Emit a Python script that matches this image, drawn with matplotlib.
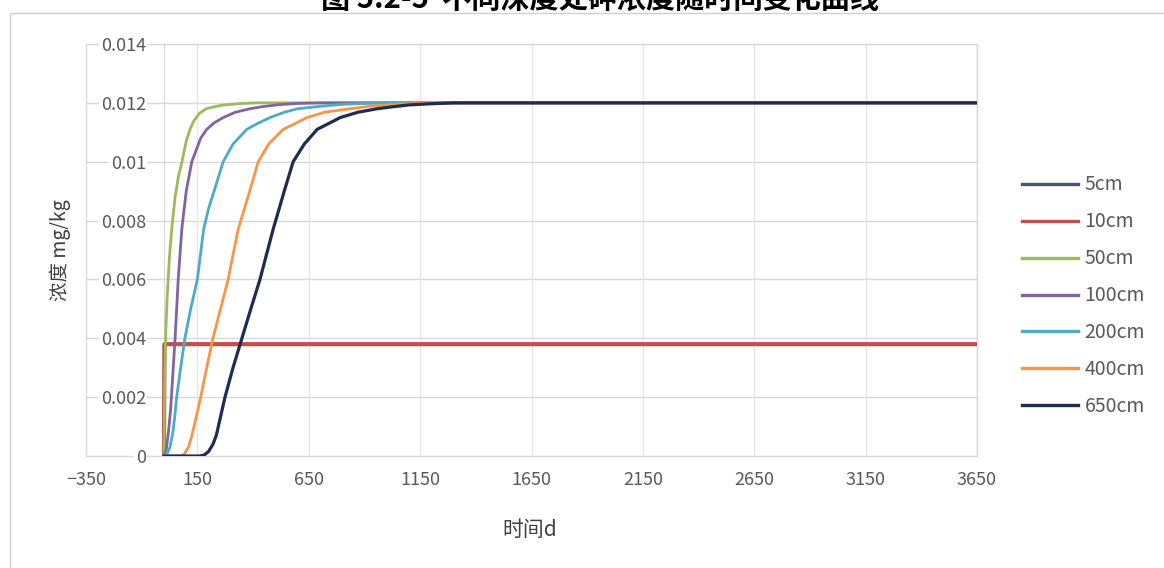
import matplotlib
matplotlib.use("Agg")
import matplotlib.pyplot as plt
from matplotlib.patches import Rectangle
from matplotlib.ticker import FixedLocator, FuncFormatter

plt.rcParams['font.family'] = ['Noto Sans CJK SC', 'DejaVu Sans']

# ---- data ----
labels = ["5cm", "10cm", "50cm", "100cm", "200cm", "400cm", "650cm"]
colors = ["#4a5570", "#c0504d", "#9bbb59", "#8064a2", "#4bacc6", "#f79646", "#1f2b50"]

t_5 = [0, 2, 3650]
c_5 = [0, 0.0038, 0.0038]

t_10 = [0, 2, 3650]
c_10 = [0, 0.0038, 0.0038]

t_50 = [0, 3, 8, 15, 25, 36, 50, 65, 81, 100, 117, 135, 160, 190, 221, 260, 300, 350, 420, 500, 3650]
c_50 = [0, 0.0025, 0.0042, 0.0055, 0.0068, 0.0078, 0.0088, 0.0095, 0.0100, 0.0107, 0.0111, 0.0114,
        0.01165, 0.0118, 0.01186, 0.01192, 0.01195, 0.01198, 0.0120, 0.0120, 0.0120]

t_100 = [0, 10, 20, 30, 40, 50, 64, 80, 100, 125, 145, 165, 192, 225, 266, 320, 386, 450, 520, 600,
         700, 3650]
c_100 = [0, 0.0002, 0.0008, 0.0016, 0.0028, 0.004, 0.006, 0.0077, 0.009, 0.0100, 0.0104, 0.0108,
         0.0111, 0.01132, 0.0115, 0.01168, 0.0118, 0.01188, 0.01194, 0.01198, 0.0120, 0.0120]

t_200 = [0, 15, 27, 40, 48, 57, 75, 94, 120, 150, 178, 200, 225, 266, 310, 372, 420, 476, 540, 600,
         700, 800, 900, 1000, 3650]
c_200 = [0, 0.0001, 0.0003, 0.0008, 0.0013, 0.002, 0.003, 0.004, 0.005, 0.006, 0.0077, 0.0084,
         0.009, 0.0100, 0.0106, 0.0111, 0.0113, 0.0115, 0.01168, 0.0118, 0.01188, 0.01195, 0.01198,
         0.0120, 0.0120]

t_400 = [0, 75, 90, 110, 122, 135, 150, 165, 192, 220, 254, 288, 333, 385, 423, 470, 535, 590, 642,
         720, 836, 920, 1000, 1100, 1200, 3650]
c_400 = [0, 0, 0.00005, 0.0003, 0.0006, 0.001, 0.0015, 0.002, 0.003, 0.004, 0.005, 0.006, 0.0077,
         0.009, 0.0100, 0.0106, 0.0111, 0.0113, 0.0115, 0.01168, 0.0118, 0.01188, 0.01193, 0.01197,
         0.0120, 0.0120]

t_650 = [0, 160, 180, 200, 220, 235, 250, 274, 310, 350, 390, 431, 490, 540, 580, 630, 688, 740, 791,
         870, 957, 1030, 1100, 1200, 1300, 3650]
c_650 = [0, 0, 0.00003, 0.00015, 0.0004, 0.0007, 0.0012, 0.002, 0.003, 0.004, 0.005, 0.006, 0.0077,
         0.009, 0.0100, 0.0106, 0.0111, 0.0113, 0.0115, 0.01168, 0.0118, 0.01187, 0.01193, 0.01197,
         0.0120, 0.0120]

series_t = [t_5, t_10, t_50, t_100, t_200, t_400, t_650]
series_c = [c_5, c_10, c_50, c_100, c_200, c_400, c_650]
widths = [2.0, 3.0, 2.0, 2.0, 2.0, 2.0, 2.3]

x_ticks = [-350, 150, 650, 1150, 1650, 2150, 2650, 3150, 3650]
y_ticks = [0, 0.002, 0.004, 0.006, 0.008, 0.010, 0.012, 0.014]

title = "图 5.2-5  不同深度处砷浓度随时间变化曲线"
xlabel = "时间d"
ylabel = "浓度 mg/kg"

# ---- figure ----
W, H = 1164, 568
fig = plt.figure(figsize=(W / 100, H / 100), dpi=100)
fig.patch.set_facecolor("white")

# chart area border
fig.add_artist(Rectangle((10 / W, -0.05), 1.1, 1 - 13 / H + 0.05, transform=fig.transFigure,
                         fill=False, edgecolor="#d0d0d0", linewidth=1.0))

ax = fig.add_axes([86 / W, 1 - 456 / H, 891 / W, 412 / H])
ax.set_xlim(-350, 3650)
ax.set_ylim(0, 0.014)

grid_c = "#d9d9d9"
for yv in y_ticks[1:]:
    ax.axhline(yv, color=grid_c, linewidth=1.0, zorder=0)
for xv in x_ticks[1:]:
    ax.axvline(xv, color="#e6e6e6", linewidth=1.0, zorder=0)

for t, c, col, lw in zip(series_t, series_c, colors, widths):
    ax.plot(t, c, color=col, linewidth=lw, zorder=3, solid_joinstyle="round")

# spines
for s in ["top", "right", "bottom"]:
    ax.spines[s].set_visible(False)
ax.spines["left"].set_position(("data", 0))
ax.spines["left"].set_color(grid_c)
ax.spines["left"].set_zorder(1)
ax.add_patch(Rectangle((0, 0), 1, 1, transform=ax.transAxes, fill=False,
                       edgecolor=grid_c, linewidth=1.0, clip_on=False, zorder=1))

ax.xaxis.set_major_locator(FixedLocator(x_ticks))
ax.yaxis.set_major_locator(FixedLocator(y_ticks))
ax.yaxis.set_major_formatter(FuncFormatter(lambda v, p: f"{v:g}"))
ax.tick_params(axis="x", length=0, pad=11, labelsize=13, labelcolor="#595959")
ax.tick_params(axis="y", length=0, pad=13, labelsize=13, labelcolor="#595959")
for lab in ax.get_yticklabels():
    lab.set_bbox(dict(facecolor="white", edgecolor="none", pad=1))

fig.text(60 / W, 1 - 250 / H, ylabel, rotation=90, ha="center", va="center",
         fontsize=14, color="#404040")
fig.text(530 / W, 1 - 530 / H, xlabel, ha="center", va="center",
         fontsize=15, color="#404040")

# legend
handles = [plt.Line2D([], [], color=col, linewidth=2.4) for col in colors]
fig.legend(handles, labels, loc="upper left", bbox_to_anchor=(1004 / W, 1 - 157 / H),
           frameon=False, fontsize=14, handlelength=2.9, handletextpad=0.35,
           labelspacing=0.82, labelcolor="#595959")

# title (cut off at top in the reference)
fig.text(600 / W, 1 - 8 / H, title, ha="center", va="baseline", fontsize=21,
         fontweight="bold", color="black")

fig.savefig("out.png", dpi=100)
